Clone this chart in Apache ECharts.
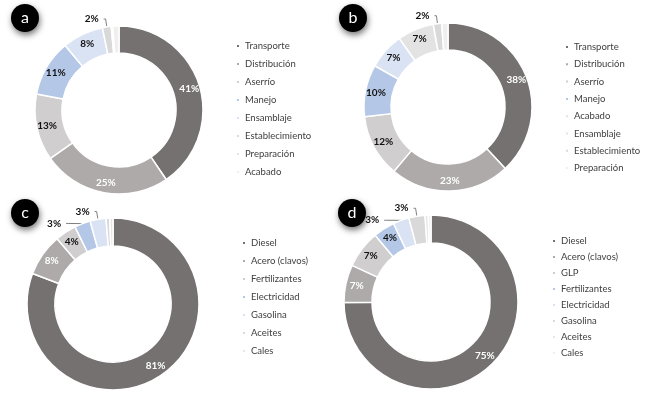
<!DOCTYPE html>
<html>
<head>
<meta charset="utf-8">
<script src="https://cdn.jsdelivr.net/npm/echarts@6/dist/echarts.min.js"></script>
<style>
  html, body { margin: 0; padding: 0; background: #fff; }
  #chart { width: 647px; height: 398px; }
</style>
</head>
<body>
<div id="chart"></div>
<script>
// a: etapas (madera)
const namesA = ["Transporte", "Distribución", "Aserrío", "Manejo", "Ensamblaje", "Establecimiento", "Preparación", "Acabado"];
const valuesA = [41, 25, 13, 11, 8, 1.7, 0.3, 1.2];
// b
const namesB = ["Transporte", "Distribución", "Aserrío", "Manejo", "Acabado", "Ensamblaje", "Establecimiento", "Preparación"];
const valuesB = [38, 23, 12, 10, 7, 7, 1.6, 1.2];
// c: insumos
const namesC = ["Diesel", "Acero (clavos)", "Fertilizantes", "Electricidad", "Gasolina", "Aceites", "Cales"];
const valuesC = [81, 8, 4, 3, 3, 0.7, 0.6];
// d
const namesD = ["Diesel", "Acero (clavos)", "GLP", "Fertilizantes", "Electricidad", "Gasolina", "Aceites", "Cales"];
const valuesD = [75, 7, 7, 4, 3, 3, 0.6, 0.5];

// colores por posición (paleta tipo Excel)
const palette = ["#767171", "#aeaaaa", "#d0cece", "#b4c7e7", "#dae3f3", "#d9d9d9", "#e7e6e6", "#efefef"];
const paletteB = ["#767171", "#aeaaaa", "#d0cece", "#b4c7e7", "#dae3f3", "#e4e3e3", "#d9d9d9", "#efefef"];
const paletteD = ["#767171", "#aeaaaa", "#d0cece", "#b4c7e7", "#dae3f3", "#d9d9d9", "#e7e6e6", "#efefef"];

const FONT = "Lato, 'Noto Sans', sans-serif";

function buildData(names, values, colors) {
  return names.map(function (n, i) {
    const v = values[i];
    let label;
    if (v >= 3.5) {
      label = { show: true, position: "inside", color: i < 2 ? "#fff" : "#111" };
    } else if (v >= 1.5) {
      label = { show: true, position: "outside", color: "#111" };
    } else {
      label = { show: false };
    }
    return {
      name: n,
      value: v,
      itemStyle: { color: colors[i] },
      label: label,
      labelLine: { show: v < 3.5 && v >= 1.5, length: 8, length2: 2, lineStyle: { color: "#7f7f7f", width: 1 } },
    };
  });
}

function pieSeries(names, values, colors, center, r) {
  return {
    type: "pie",
    center: center,
    radius: [Math.round(r * 0.68), r],
    startAngle: 90,
    clockwise: true,
    avoidLabelOverlap: true,
    itemStyle: { borderColor: "#fff", borderWidth: 1.5 },
    label: {
      fontFamily: FONT,
      fontSize: 10,
      fontWeight: "bold",
      formatter: function (p) { return Math.round(p.value) + "%"; },
    },
    emphasis: { disabled: true },
    data: buildData(names, values, colors),
  };
}

function legendFor(names, colors, left, top, gap) {
  return {
    orient: "vertical",
    left: left,
    top: top,
    padding: 0,
    icon: "rect",
    itemWidth: 4,
    itemHeight: 4,
    itemGap: gap,
    selectedMode: false,
    textStyle: { fontFamily: FONT, fontSize: 9.5, color: "#404040", lineHeight: 12 },
    data: names.map(function (n, i) { return { name: n, itemStyle: { color: colors[i] } }; }),
  };
}

function badge(x, y, letter) {
  return {
    type: "group",
    children: [
      {
        type: "circle",
        shape: { cx: x, cy: y, r: 14 },
        style: { fill: "#000", shadowBlur: 6, shadowOffsetX: 1, shadowOffsetY: 3, shadowColor: "rgba(0,0,0,0.55)" },
      },
      {
        type: "text",
        x: x,
        y: y,
        style: { text: letter, fill: "#fff", font: "16px " + FONT, align: "center", verticalAlign: "middle" },
      },
    ],
  };
}

const chart = echarts.init(document.getElementById("chart"));
const option = {
  backgroundColor: "#fff",
  animation: false,
  legend: [
    legendFor(namesA, palette, 235, 40, 6),
    legendFor(namesB, paletteB, 564, 41, 5.3),
    legendFor(namesC, palette, 241, 237, 6),
    legendFor(namesD, paletteD, 551, 235, 4),
  ],
  series: [
    pieSeries(namesA, valuesA, palette, [119, 110], 84),
    pieSeries(namesB, valuesB, paletteB, [448, 107], 84),
    pieSeries(namesC, valuesC, palette, [113, 304], 86),
    pieSeries(namesD, valuesD, paletteD, [431, 302], 87),
  ],
  graphic: [
    badge(25, 18, "a"),
    badge(353, 18, "b"),
    badge(25, 213, "c"),
    badge(352, 213, "d"),
  ],
};
chart.setOption(option);
</script>
</body>
</html>
